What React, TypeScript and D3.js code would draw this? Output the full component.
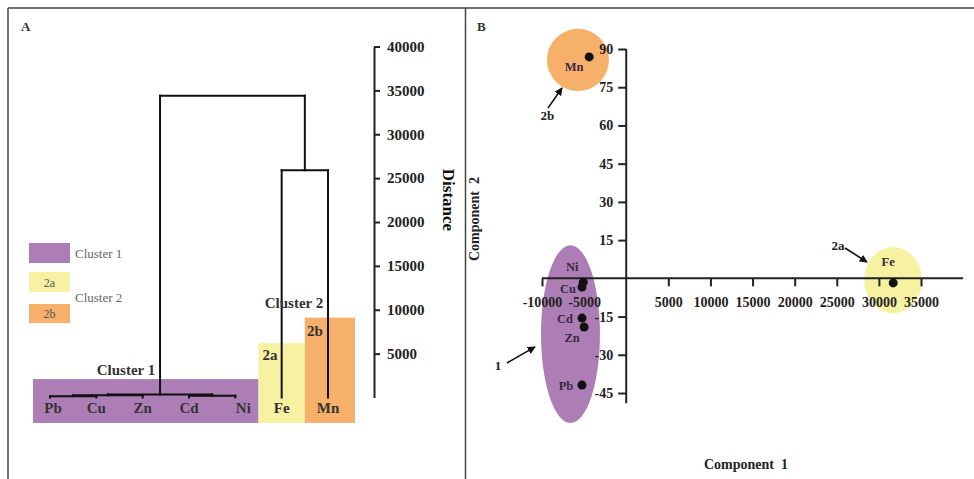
import React, { useRef, useEffect } from "react";
import * as d3 from "d3";

// ---------- Panel A: dendrogram data ----------
const leafNames = ["Pb", "Cu", "Zn", "Cd", "Ni", "Fe", "Mn"];
const mergeNames = ["PbCu", "PbCuZn", "CdNi", "Cluster1", "Cluster2", "Root"];
const mergeChildren = [
  ["Pb", "Cu"],
  ["PbCu", "Zn"],
  ["Cd", "Ni"],
  ["PbCuZn", "CdNi"],
  ["Fe", "Mn"],
  ["Cluster1", "Cluster2"],
];
const mergeHeights = [150, 250, 200, 350, 25900, 34400];
const distanceTicks = [5000, 10000, 15000, 20000, 25000, 30000, 35000, 40000];

// highlight boxes (distance units)
const boxLabels = ["Cluster 1", "2a", "2b"];
const boxTops = [2100, 6200, 9100];
const boxBottom = -2900;

// ---------- Panel B: PCA data ----------
const pcaElements = ["Mn", "Fe", "Ni", "Cu", "Cd", "Zn", "Pb"];
const pcaComp1 = [-4400, 31700, -5100, -5250, -5250, -5000, -5250];
const pcaComp2 = [86.9, -1.8, -1.5, -3.4, -15.6, -19.1, -41.9];
const comp1Ticks = [-10000, -5000, 5000, 10000, 15000, 20000, 25000, 30000, 35000];
const comp2Ticks = [-45, -30, -15, 15, 30, 45, 60, 75, 90];

// group ellipses (data units)
const groupNames = ["1", "2a", "2b"];
const groupCx = [-6620, 31680, -5730];
const groupCy = [-21.9, -0.7, 85.7];
const groupRx = [3500, 3440, 3680];
const groupRy = [34.9, 13, 12.2];
// annotation arrows (data units)
const arrowFromX = [-14156, 25977, -9290];
const arrowFromY = [-33.2, 11.9, 66.8];
const arrowToX = [-10831, 28590, -7625];
const arrowToY = [-26.9, 6.4, 74.7];
const arrowLabelX = [-15224, 25140, -9350];
const arrowLabelY = [-36, 11, 62.1];

// ---------- styles ----------
const FONT = "'Liberation Serif','Times New Roman',serif";
const PURPLE = "#ad7eb5";
const YELLOW = "#f6f2a2";
const ORANGE = "#f6b06a";
const boxColors = [PURPLE, YELLOW, ORANGE];
const groupColors = [PURPLE, YELLOW, ORANGE];
const labelOffsets: Record<string, [number, number]> = {
  Mn: [-15, 14],
  Fe: [-5, -17],
  Ni: [-11, -11],
  Cu: [-14, 6],
  Cd: [-17, 5],
  Zn: [-12, 15],
  Pb: [-16, 5],
};

const fmt = (d: d3.NumberValue) => String(d);

export default function App() {
  const distAxisRef = useRef<SVGGElement>(null);
  const xAxisRef = useRef<SVGGElement>(null);
  const yAxisRef = useRef<SVGGElement>(null);

  // scales
  const xLeaf = d3.scalePoint<string>().domain(leafNames).range([50, 328]);
  const yDist = d3.scaleLinear().domain([0, 40000]).range([397.5, 46.5]);
  const xPC = d3.scaleLinear().domain([-10000, 35000]).range([542, 921]);
  const yPC = d3.scaleLinear().domain([-45, 90]).range([393, 49]);

  // hierarchy
  const childMap = new Map<string, string[]>();
  const heightMap = new Map<string, number>();
  mergeNames.forEach((n, i) => {
    childMap.set(n, mergeChildren[i]);
    heightMap.set(n, mergeHeights[i]);
  });
  const root = d3.hierarchy<string>("Root", (id) => childMap.get(id));
  const pos = new Map<string, { x: number; h: number }>();
  root.eachAfter((n) => {
    if (n.children) {
      const x = d3.mean(n.children, (c) => pos.get(c.data)!.x)!;
      pos.set(n.data, { x, h: heightMap.get(n.data)! });
    } else {
      pos.set(n.data, { x: xLeaf(n.data)!, h: 0 });
    }
  });
  const segs: { x1: number; y1: number; x2: number; y2: number }[] = [];
  root.each((n) => {
    if (!n.children) return;
    const p = pos.get(n.data)!;
    const xs = n.children.map((c) => pos.get(c.data)!.x);
    segs.push({ x1: d3.min(xs)!, y1: yDist(p.h), x2: d3.max(xs)!, y2: yDist(p.h) });
    n.children.forEach((c) => {
      const cp = pos.get(c.data)!;
      segs.push({ x1: cp.x, y1: yDist(cp.h), x2: cp.x, y2: yDist(p.h) });
    });
  });

  useEffect(() => {
    const styleAxis = (g: d3.Selection<SVGGElement, unknown, null, undefined>, size: number) => {
      g.attr("font-family", FONT).attr("font-size", size).attr("font-weight", "bold");
      g.selectAll("path,line").attr("stroke", "#222").attr("stroke-width", 2);
      g.selectAll("text").attr("fill", "#222");
    };
    const gd = d3.select(distAxisRef.current!);
    gd.call(d3.axisRight(yDist).tickValues(distanceTicks).tickSize(6).tickSizeOuter(0).tickPadding(7).tickFormat(fmt));
    styleAxis(gd, 15);

    const gx = d3.select(xAxisRef.current!);
    gx.call(d3.axisBottom(xPC).tickValues(comp1Ticks).tickSize(8).tickSizeOuter(0).tickPadding(11).tickFormat(fmt));
    gx.select(".domain").remove();
    styleAxis(gx, 14);

    const gy = d3.select(yAxisRef.current!);
    gy.call(d3.axisLeft(yPC).tickValues(comp2Ticks).tickSize(8).tickSizeOuter(0).tickPadding(5).tickFormat(fmt));
    gy.select(".domain").remove();
    styleAxis(gy, 14);
  }, []);

  const boxX = [
    [xLeaf("Pb")! - 17, (xLeaf("Ni")! + xLeaf("Fe")!) / 2],
    [(xLeaf("Ni")! + xLeaf("Fe")!) / 2, (xLeaf("Fe")! + xLeaf("Mn")!) / 2],
    [(xLeaf("Fe")! + xLeaf("Mn")!) / 2, xLeaf("Mn")! + 27],
  ];

  return (
    <svg width={974} height={479} style={{ position: "absolute", left: 0, top: 0, background: "#fff" }} fontFamily={FONT}>
      <defs>
        <marker id="arr" viewBox="0 0 10 10" refX="9" refY="5" markerWidth="5" markerHeight="5" orient="auto">
          <path d="M0,0 L10,5 L0,10 z" fill="#111" />
        </marker>
      </defs>
      {/* frame */}
      <line x1={8} y1={8} x2={974} y2={8} stroke="#444" strokeWidth={1.5} />
      <line x1={8} y1={8} x2={8} y2={479} stroke="#444" strokeWidth={1.5} />
      <line x1={465.5} y1={8} x2={465.5} y2={479} stroke="#444" strokeWidth={1.5} />
      <text x={21} y={31} fontSize={13} fontWeight="bold" fill="#333">A</text>
      <text x={477} y={31} fontSize={13} fontWeight="bold" fill="#333">B</text>

      {/* ---------- Panel A ---------- */}
      {boxLabels.map((b, i) => (
        <rect key={b} x={boxX[i][0]} y={yDist(boxTops[i])} width={boxX[i][1] - boxX[i][0]} height={yDist(boxBottom) - yDist(boxTops[i])} fill={boxColors[i]} />
      ))}
      {segs.map((s, i) => (
        <line key={i} x1={s.x1} y1={s.y1} x2={s.x2} y2={s.y2} stroke="#111" strokeWidth={2} strokeLinecap="square" />
      ))}
      {leafNames.map((n) => (
        <text key={n} x={xLeaf(n)! + (n === "Ni" ? 8 : n === "Pb" ? 3 : 0)} y={413} textAnchor="middle" fontSize={15} fontWeight="bold" fill="#333">{n}</text>
      ))}
      <text x={126} y={375} textAnchor="middle" fontSize={15} fontWeight="bold" fill="#333">Cluster 1</text>
      <text x={294} y={308} textAnchor="middle" fontSize={15} fontWeight="bold" fill="#333">Cluster 2</text>
      <text x={270} y={360} textAnchor="middle" fontSize={15} fontWeight="bold" fill="#333">2a</text>
      <text x={315} y={336} textAnchor="middle" fontSize={15} fontWeight="bold" fill="#333">2b</text>
      <g ref={distAxisRef} transform="translate(374,0)" />
      <text transform="translate(443,200) rotate(90)" textAnchor="middle" fontSize={17} fontWeight="bold" fill="#111">Distance</text>

      {/* legend */}
      <rect x={29} y={243} width={41} height={20} fill={PURPLE} />
      <text x={75} y={258} fontSize={13} fill="#666">Cluster 1</text>
      <rect x={29} y={272} width={41} height={20} fill={YELLOW} />
      <text x={49.5} y={287} textAnchor="middle" fontSize={12} fill="#555">2a</text>
      <rect x={29} y={304} width={41} height={19} fill={ORANGE} />
      <text x={49.5} y={318} textAnchor="middle" fontSize={12} fill="#555">2b</text>
      <text x={75} y={302} fontSize={13} fill="#666">Cluster 2</text>

      {/* ---------- Panel B ---------- */}
      {groupNames.map((g, i) => (
        <ellipse key={g} cx={xPC(groupCx[i])} cy={yPC(groupCy[i])} rx={xPC(groupRx[i]) - xPC(0)} ry={yPC(0) - yPC(groupRy[i])} fill={groupColors[i]} />
      ))}
      <line x1={xPC(-10000)} y1={yPC(0)} x2={xPC(40000)} y2={yPC(0)} stroke="#222" strokeWidth={2} />
      <line x1={xPC(0)} y1={yPC(90)} x2={xPC(0)} y2={yPC(-49)} stroke="#222" strokeWidth={2} />
      <g ref={xAxisRef} transform={`translate(0,${yPC(0)})`} />
      <g ref={yAxisRef} transform={`translate(${xPC(0)},0)`} />
      {pcaElements.map((e, i) => (
        <g key={e}>
          <circle cx={xPC(pcaComp1[i])} cy={yPC(pcaComp2[i])} r={4.5} fill="#111" />
          <text x={xPC(pcaComp1[i]) + labelOffsets[e][0]} y={yPC(pcaComp2[i]) + labelOffsets[e][1]} textAnchor="middle" fontSize={12.5} fontWeight="bold" fill="#3a2a40">{e}</text>
        </g>
      ))}
      {groupNames.map((g, i) => (
        <g key={"a" + g}>
          <line x1={xPC(arrowFromX[i])} y1={yPC(arrowFromY[i])} x2={xPC(arrowToX[i])} y2={yPC(arrowToY[i])} stroke="#111" strokeWidth={1.6} markerEnd="url(#arr)" />
          <text x={xPC(arrowLabelX[i])} y={yPC(arrowLabelY[i])} textAnchor="middle" fontSize={13} fontWeight="bold" fill="#222">{g}</text>
        </g>
      ))}
      <text x={746} y={469} textAnchor="middle" fontSize={14} fontWeight="bold" fill="#222" style={{ whiteSpace: "pre" }}>{"Component  1"}</text>
      <text transform="translate(479,219) rotate(-90)" textAnchor="middle" fontSize={14} fontWeight="bold" fill="#222" style={{ whiteSpace: "pre" }}>{"Component  2"}</text>
    </svg>
  );
}
